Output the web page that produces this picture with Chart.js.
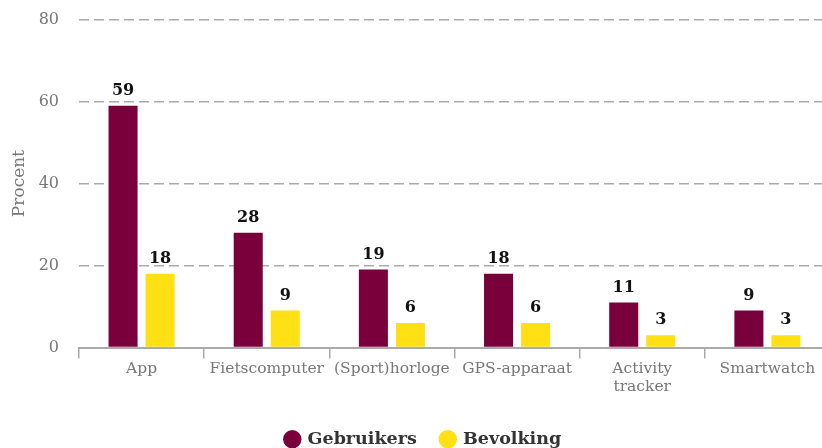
<!DOCTYPE html>
<html>
<head>
<meta charset="utf-8">
<script src="https://cdn.jsdelivr.net/npm/chart.js@4/dist/chart.umd.min.js"></script>
<style>
  html, body { margin: 0; padding: 0; overflow: hidden; background: #fff; }
  #wrap { width: 822px; height: 448px; overflow: hidden; }
  #grafiek { display: block; margin-top: -10px; }
</style>
</head>
<body>
<div id="wrap"><canvas id="grafiek" width="830" height="468"></canvas></div>
<script>
var categorieen = ['App', 'Fietscomputer', '(Sport)horloge', 'GPS-apparaat', ['Activity', 'tracker'], 'Smartwatch'];
var gebruikers = [59, 28, 19, 18, 11, 9];
var bevolking = [18, 9, 6, 6, 3, 3];
var yTicks = [0, 20, 40, 60, 80];

var serif = "'DejaVu Serif', serif";

// labels boven de balken
var waardeLabels = {
    id: 'waardeLabels',
    afterDatasetsDraw: function (chart) {
        var ctx = chart.ctx;
        ctx.save();
        ctx.font = 'bold 16px ' + serif;
        ctx.fillStyle = '#111';
        ctx.textAlign = 'center';
        ctx.textBaseline = 'bottom';
        chart.data.datasets.forEach(function (ds, i) {
            var meta = chart.getDatasetMeta(i);
            meta.data.forEach(function (bar, j) {
                ctx.fillText(ds.data[j], bar.x, bar.y - 7);
            });
        });
        ctx.restore();
    }
};

var ctx = document.getElementById('grafiek').getContext('2d');
var grafiek = new Chart(ctx, {
    type: 'bar',
    data: {
        labels: categorieen,
        datasets: [{
            label: 'Gebruikers',
            data: gebruikers,
            backgroundColor: '#7a003c'
        }, {
            label: 'Bevolking',
            data: bevolking,
            backgroundColor: '#ffe014'
        }]
    },
    options: {
        responsive: false,
        animation: false,
        layout: { padding: { top: -2, left: 17, right: 0, bottom: 0 } },
        datasets: {
            bar: { categoryPercentage: 0.592, barPercentage: 0.784 }
        },
        plugins: {
            legend: {
                position: 'bottom',
                labels: {
                    usePointStyle: true,
                    pointStyle: 'circle',
                    boxWidth: 13,
                    boxHeight: 13,
                    padding: 24.5,
                    color: '#333',
                    font: { family: serif, size: 17.5, weight: 'bold' }
                }
            },
            tooltip: { enabled: false }
        },
        scales: {
            x: {
                offset: true,
                grid: {
                    drawOnChartArea: false,
                    drawTicks: true,
                    tickLength: 11,
                    color: '#aaa',
                    lineWidth: 1.5,
                    offset: true
                },
                border: { display: true, color: '#aaa', width: 2 },
                ticks: {
                    color: '#777',
                    font: { family: serif, size: 15.5 },
                    maxRotation: 0,
                    autoSkip: false,
                    padding: 1
                },
                afterFit: function (scale) { scale.height = 58.5; }
            },
            y: {
                min: 0,
                max: 80,
                afterBuildTicks: function (scale) {
                    scale.ticks = yTicks.map(function (v) { return { value: v }; });
                },
                grid: {
                    drawTicks: false,
                    color: function (c) { return c.tick && c.tick.value === 0 ? 'rgba(0,0,0,0)' : '#aaa'; },
                    lineWidth: 1.5
                },
                border: { display: false, dash: [10, 5] },
                ticks: {
                    color: '#777',
                    font: { family: serif, size: 16 },
                    padding: 20
                },
                title: {
                    display: true,
                    text: 'Procent',
                    color: '#777',
                    font: { family: serif, size: 17 },
                    padding: { top: -8, bottom: 0 }
                },
                afterFit: function (scale) { scale.width = 62; }
            }
        }
    },
    plugins: [waardeLabels]
});
</script>
</body>
</html>
